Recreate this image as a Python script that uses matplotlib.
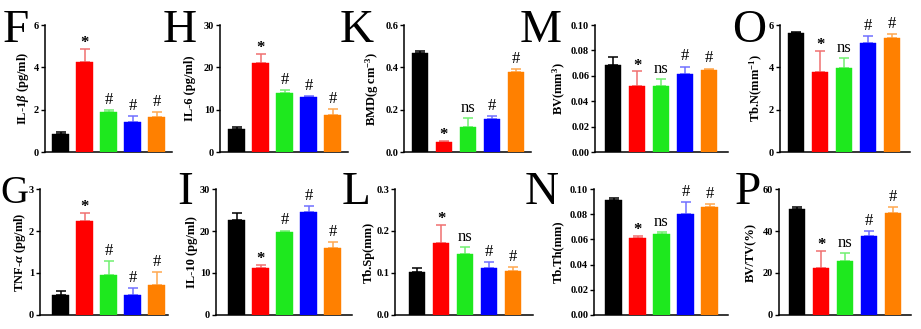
import matplotlib
matplotlib.use("Agg")
import matplotlib.pyplot as plt
import numpy as np

plt.rcParams['font.family'] = ['Liberation Serif', 'DejaVu Serif']
plt.rcParams['mathtext.fontset'] = 'custom'
plt.rcParams['mathtext.rm'] = 'Liberation Serif:bold'
plt.rcParams['mathtext.it'] = 'Liberation Serif:italic:bold'
plt.rcParams['mathtext.bf'] = 'Liberation Serif:bold'

# ---------------- data ----------------
groups = ["G1", "G2", "G3", "G4", "G5"]

letters = ["F", "H", "K", "M", "O", "G", "I", "L", "N", "P"]
ylabels = [r"IL-1$\it{\beta}$ (pg/ml)", "IL-6 (pg/ml)", r"BMD(g cm$^{-3}$)", r"BV(mm$^{3}$)",
           r"Tb.N(mm$^{-1}$)", r"TNF-$\it{\alpha}$ (pg/ml)", "IL-10 (pg/ml)", "Tb.Sp(mm)",
           "Tb.Th(mm)", "BV/TV(%)"]

il1b_mean = [0.85, 4.25, 1.88, 1.43, 1.65]
il1b_err = [0.09, 0.60, 0.12, 0.27, 0.22]
il6_mean = [5.5, 21.0, 13.9, 12.9, 8.7]
il6_err = [0.3, 2.1, 0.8, 0.3, 1.4]
bmd_mean = [0.466, 0.046, 0.118, 0.155, 0.380]
bmd_err = [0.013, 0.007, 0.041, 0.013, 0.011]
bv_mean = [0.0683, 0.0516, 0.0516, 0.0615, 0.0647]
bv_err = [0.0063, 0.0118, 0.0057, 0.0058, 0.0010]
tbn_mean = [5.62, 3.77, 3.97, 5.14, 5.39]
tbn_err = [0.07, 1.00, 0.49, 0.36, 0.17]
tnfa_mean = [0.48, 2.25, 0.95, 0.47, 0.72]
tnfa_err = [0.08, 0.18, 0.33, 0.17, 0.30]
il10_mean = [22.7, 11.1, 19.8, 24.6, 16.0]
il10_err = [1.6, 0.8, 0.3, 1.4, 1.3]
tbsp_mean = [0.102, 0.172, 0.145, 0.112, 0.105]
tbsp_err = [0.009, 0.043, 0.017, 0.014, 0.010]
tbth_mean = [0.0913, 0.0610, 0.0641, 0.0802, 0.0855]
tbth_err = [0.0016, 0.0015, 0.0021, 0.0095, 0.0024]
bvtv_mean = [50.6, 22.4, 25.9, 37.6, 48.6]
bvtv_err = [0.8, 7.9, 3.6, 2.4, 2.8]

means = [il1b_mean, il6_mean, bmd_mean, bv_mean, tbn_mean,
         tnfa_mean, il10_mean, tbsp_mean, tbth_mean, bvtv_mean]
errs = [il1b_err, il6_err, bmd_err, bv_err, tbn_err,
        tnfa_err, il10_err, tbsp_err, tbth_err, bvtv_err]

yticks = [[0, 2, 4, 6], [0, 10, 20, 30], [0.0, 0.2, 0.4, 0.6],
          [0.00, 0.02, 0.04, 0.06, 0.08, 0.10], [0, 2, 4, 6],
          [0, 1, 2, 3], [0, 10, 20, 30], [0.0, 0.1, 0.2, 0.3],
          [0.00, 0.02, 0.04, 0.06, 0.08, 0.10], [0, 20, 40, 60]]
ytick_fmt = ["{:.0f}", "{:.0f}", "{:.1f}", "{:.2f}", "{:.0f}",
             "{:.0f}", "{:.0f}", "{:.1f}", "{:.2f}", "{:.0f}"]

marks = [["", "*", "#", "#", "#"],
         ["", "*", "#", "#", "#"],
         ["", "*", "ns", "#", "#"],
         ["", "*", "ns", "#", "#"],
         ["", "*", "ns", "#", "#"],
         ["", "*", "#", "#", "#"],
         ["", "*", "#", "#", "#"],
         ["", "*", "ns", "#", "#"],
         ["", "*", "ns", "#", "#"],
         ["", "*", "ns", "#", "#"]]

# ---------------- style / layout ----------------
bar_colors = ["#000000", "#ff0000", "#1ee81e", "#0000ff", "#ff8000"]
err_colors = ["#000000", "#f07070", "#70f070", "#7070ff", "#ffa850"]

W, H = 921, 329
fig = plt.figure(figsize=(W / 100, H / 100), dpi=100)

row_tb = [(25, 152), (189, 315)]
ax_lr = [(45, 172), (220, 348), (404, 531), (595, 728), (780, 910),
         (40, 168), (216, 352), (395, 533), (594, 728), (779, 911)]
left_off = [15.5, 16.5, 16, 18, 16, 20.5, 20.5, 22, 19.5, 18]
spacing = 24.0
letter_pos = [(3, 42), (163, 42), (340, 42), (520, 42), (732, 42),
              (0.5, 203), (177, 204), (342, 204), (525, 204), (735, 204)]
letter_size = [34, 34, 34, 34, 34, 28, 34, 34, 34, 34]
ylabel_x = [23, 190, 372, 559, 756, 20, 192, 369, 558, 751]

for i in range(10):
    top, bot = row_tb[i // 5]
    l, r = ax_lr[i]
    ax = fig.add_axes([l / W, 1 - bot / H, (r - l) / W, (bot - top) / H])
    x = np.arange(5)
    ax.bar(x, means[i], width=0.68, color=bar_colors, edgecolor=bar_colors, linewidth=0.3, zorder=3)
    for j in range(5):
        ax.errorbar(x[j], means[i][j], yerr=[[0], [errs[i][j]]], fmt='none',
                    ecolor=err_colors[j], elinewidth=1.1, capsize=3.5, capthick=1.1, zorder=2)
        m = marks[i][j]
        if m:
            top_val = means[i][j] + errs[i][j]
            if m == "*":
                ax.annotate(m, (x[j], top_val), xytext=(0, -1.5), textcoords='offset points',
                            ha='center', va='bottom', fontsize=12, fontweight='bold')
            else:
                ax.annotate(m, (x[j], top_val), xytext=(0, 1.5), textcoords='offset points',
                            ha='center', va='bottom', fontsize=12)
    xl = -left_off[i] / spacing
    ax.set_xlim(xl, xl + (r - l) / spacing)
    ax.set_ylim(yticks[i][0], yticks[i][-1])
    ax.set_yticks(yticks[i])
    ax.set_yticklabels([ytick_fmt[i].format(v) for v in yticks[i]], fontsize=7.5, fontweight='bold')
    ax.set_xticks([])
    for s in ['top', 'right']:
        ax.spines[s].set_visible(False)
    for s in ['left', 'bottom']:
        ax.spines[s].set_linewidth(1.1)
    ax.tick_params(axis='y', direction='out', length=3, width=1.0, pad=1.2)
    ax.patch.set_alpha(0)

    fig.text(ylabel_x[i] / W, 1 - (top + bot) / 2 / H, ylabels[i], rotation=90,
             ha='center', va='center', fontsize=9, fontweight='bold')
    lx, ly = letter_pos[i]
    fig.text(lx / W, 1 - ly / H, letters[i], fontsize=letter_size[i], ha='left', va='baseline')

fig.savefig("out.png", dpi=100)
